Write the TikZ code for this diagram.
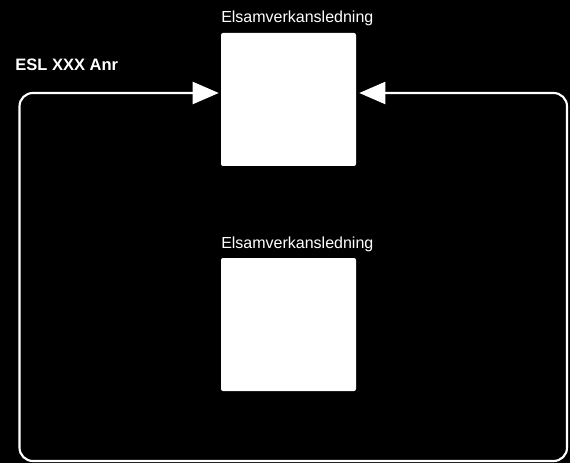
\documentclass[tikz,border=0pt]{standalone}
\usepackage{fontspec}
\setmainfont{Liberation Sans}
\usetikzlibrary{arrows.meta}
\begin{document}
\begin{tikzpicture}[x=0.75pt,y=-0.75pt,
  box/.style={fill=white,draw=none,rounded corners=1.5pt,minimum width=135*0.75pt,minimum height=133*0.75pt,inner sep=0pt},
  lbl/.style={text=white,font=\fontsize{12pt}{14pt}\selectfont,anchor=base west,inner sep=0pt},
  loop/.style={draw=white,line width=1.6pt,rounded corners=10pt},
  tip/.style={{Triangle[width=22*0.75pt,length=26*0.75pt]}-{Triangle[width=22*0.75pt,length=26*0.75pt]}}]
\fill[black] (0,0) rectangle (570,463);
\useasboundingbox (0,0) rectangle (570,463);
\node[box] (top) at (288.5,99.5) {};
\node[box] (bot) at (288.5,324.5) {};
\node[lbl] (ltop) at (221,23) {Elsamverkansledning};
\node[lbl] (lbot) at (221,248) {Elsamverkansledning};
\node[lbl,font=\bfseries\fontsize{12.4pt}{14pt}\selectfont] (esl) at (15,71) {ESL XXX Anr};
\coordinate (a) at ([xshift=-2*0.75pt]top.west |- 0,93);
\coordinate (b) at ([xshift=3*0.75pt]top.east |- 0,93);
\draw[loop,tip] (b) -- (567,93) -- (567,461) -- (19.5,461) -- (19.5,93) -- (a);
\end{tikzpicture}
\end{document}
